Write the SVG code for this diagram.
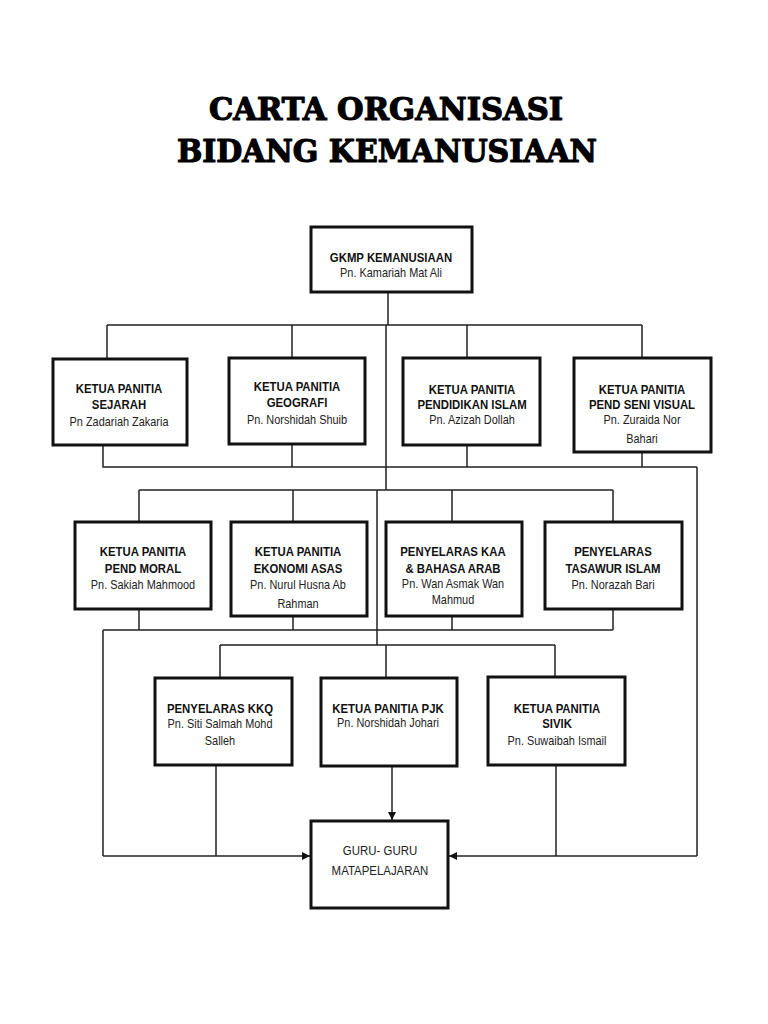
<svg xmlns="http://www.w3.org/2000/svg" width="768" height="1024" viewBox="0 0 768 1024">
<defs>
<marker id="arr" viewBox="0 0 10 10" refX="10" refY="5" markerWidth="8" markerHeight="8" markerUnits="userSpaceOnUse" orient="auto">
<path d="M0,0 L10,5 L0,10 z" fill="#111"/>
</marker>
<style>
.box{fill:#fff;stroke:#111;stroke-width:3}
.b{font-family:"Liberation Sans",Arial,sans-serif;font-weight:bold;font-size:13px;fill:#111;text-anchor:middle}
.n{font-family:"Liberation Sans",Arial,sans-serif;font-size:13px;fill:#222;text-anchor:middle}
.t{font-family:"DejaVu Serif","Liberation Serif",serif;font-weight:900;font-size:31px;fill:#000;stroke:#000;stroke-width:1.2;stroke-linejoin:round;text-anchor:middle}
.c{fill:none;stroke:#222;stroke-width:1.5}
</style>
</defs>
<rect width="768" height="1024" fill="#fff"/>
<g id="title">
<text class="t" x="386" y="120" textLength="354" lengthAdjust="spacingAndGlyphs">CARTA ORGANISASI</text>
<text class="t" x="387" y="162" textLength="420" lengthAdjust="spacingAndGlyphs">BIDANG KEMANUSIAAN</text>
</g>
<g id="connectors">
<path class="c" d="M388,292 V325 M107,325 H642 M107,325 V358 M292,325 V358 M467,325 V358 M642,325 V358"/>
<path class="c" d="M386,325 V490 M139,490 H613 M139,490 V522 M293,490 V522 M452,490 V522 M613,490 V522"/>
<path class="c" d="M377,490 V645 M220,645 H555 M220,645 V678 M386,645 V678 M555,645 V678"/>
<path class="c" d="M103,446 V467 H697 M292,444 V467 M467,445 V467 M642,452 V467 M697,467 V856"/>
<path class="c" d="M139,609 V630 M103,630 H613 M293,616 V630 M452,616 V630 M613,609 V630 M103,630 V856"/>
<path class="c" d="M216,765 V856 M556,765 V856"/>
<path class="c" d="M103,856 H310" marker-end="url(#arr)"/>
<path class="c" d="M697,856 H449" marker-end="url(#arr)"/>
<path class="c" d="M392,766 V820" marker-end="url(#arr)"/>
</g>
<g id="gkmp">
<rect class="box" x="311" y="227" width="161" height="65"/>
<g transform="translate(391,0) scale(0.875,1)"><text class="b" x="0" y="262">GKMP KEMANUSIAAN</text></g>
<g transform="translate(391,0) scale(0.84,1)"><text class="n" x="0" y="277">Pn. Kamariah Mat Ali</text></g>
</g>
<g id="sejarah">
<rect class="box" x="53" y="359" width="134" height="86"/>
<g transform="translate(119,0) scale(0.875,1)"><text class="b" x="0" y="393">KETUA PANITIA</text><text class="b" x="0" y="409">SEJARAH</text></g>
<g transform="translate(119,0) scale(0.84,1)"><text class="n" x="0" y="426">Pn Zadariah Zakaria</text></g>
</g>
<g id="geografi">
<rect class="box" x="229" y="358" width="136" height="86"/>
<g transform="translate(297,0) scale(0.875,1)"><text class="b" x="0" y="391">KETUA PANITIA</text><text class="b" x="0" y="407">GEOGRAFI</text></g>
<g transform="translate(297,0) scale(0.84,1)"><text class="n" x="0" y="424">Pn. Norshidah Shuib</text></g>
</g>
<g id="pend-islam">
<rect class="box" x="403" y="358" width="137" height="87"/>
<g transform="translate(472,0) scale(0.875,1)"><text class="b" x="0" y="394">KETUA PANITIA</text><text class="b" x="0" y="409">PENDIDIKAN ISLAM</text></g>
<g transform="translate(472,0) scale(0.84,1)"><text class="n" x="0" y="424">Pn. Azizah Dollah</text></g>
</g>
<g id="seni-visual">
<rect class="box" x="574" y="358" width="137" height="94"/>
<g transform="translate(642,0) scale(0.875,1)"><text class="b" x="0" y="394">KETUA PANITIA</text><text class="b" x="0" y="409">PEND SENI VISUAL</text></g>
<g transform="translate(642,0) scale(0.84,1)"><text class="n" x="0" y="424">Pn. Zuraida Nor</text><text class="n" x="0" y="443">Bahari</text></g>
</g>
<g id="pend-moral">
<rect class="box" x="75" y="522" width="136" height="87"/>
<g transform="translate(143,0) scale(0.875,1)"><text class="b" x="0" y="556">KETUA PANITIA</text><text class="b" x="0" y="573">PEND MORAL</text></g>
<g transform="translate(143,0) scale(0.84,1)"><text class="n" x="0" y="589">Pn. Sakiah Mahmood</text></g>
</g>
<g id="ekonomi">
<rect class="box" x="231" y="522" width="136" height="94"/>
<g transform="translate(298,0) scale(0.875,1)"><text class="b" x="0" y="556">KETUA PANITIA</text><text class="b" x="0" y="573">EKONOMI ASAS</text></g>
<g transform="translate(298,0) scale(0.84,1)"><text class="n" x="0" y="589">Pn. Nurul Husna Ab</text><text class="n" x="0" y="608">Rahman</text></g>
</g>
<g id="kaa">
<rect class="box" x="386" y="522" width="136" height="94"/>
<g transform="translate(453,0) scale(0.875,1)"><text class="b" x="0" y="556">PENYELARAS KAA</text><text class="b" x="0" y="573">&amp; BAHASA ARAB</text></g>
<g transform="translate(453,0) scale(0.84,1)"><text class="n" x="0" y="588">Pn. Wan Asmak Wan</text><text class="n" x="0" y="604">Mahmud</text></g>
</g>
<g id="tasawur">
<rect class="box" x="545" y="522" width="137" height="87"/>
<g transform="translate(613,0) scale(0.875,1)"><text class="b" x="0" y="556">PENYELARAS</text><text class="b" x="0" y="573">TASAWUR ISLAM</text></g>
<g transform="translate(613,0) scale(0.84,1)"><text class="n" x="0" y="589">Pn. Norazah Bari</text></g>
</g>
<g id="kkq">
<rect class="box" x="155" y="678" width="137" height="87"/>
<g transform="translate(220,0) scale(0.875,1)"><text class="b" x="0" y="713">PENYELARAS KKQ</text></g>
<g transform="translate(220,0) scale(0.84,1)"><text class="n" x="0" y="728">Pn. Siti Salmah Mohd</text><text class="n" x="0" y="745">Salleh</text></g>
</g>
<g id="pjk">
<rect class="box" x="321" y="678" width="136" height="88"/>
<g transform="translate(388,0) scale(0.875,1)"><text class="b" x="0" y="713">KETUA PANITIA PJK</text></g>
<g transform="translate(388,0) scale(0.84,1)"><text class="n" x="0" y="727">Pn. Norshidah Johari</text></g>
</g>
<g id="sivik">
<rect class="box" x="488" y="677" width="137" height="88"/>
<g transform="translate(557,0) scale(0.875,1)"><text class="b" x="0" y="713">KETUA PANITIA</text><text class="b" x="0" y="728">SIVIK</text></g>
<g transform="translate(557,0) scale(0.84,1)"><text class="n" x="0" y="745">Pn. Suwaibah Ismail</text></g>
</g>
<g id="guru">
<rect class="box" x="311" y="821" width="137" height="87"/>
<g transform="translate(380,0) scale(0.88,1)"><text class="n" x="0" y="855">GURU- GURU</text><text class="n" x="0" y="875">MATAPELAJARAN</text></g>
</g>
</svg>
